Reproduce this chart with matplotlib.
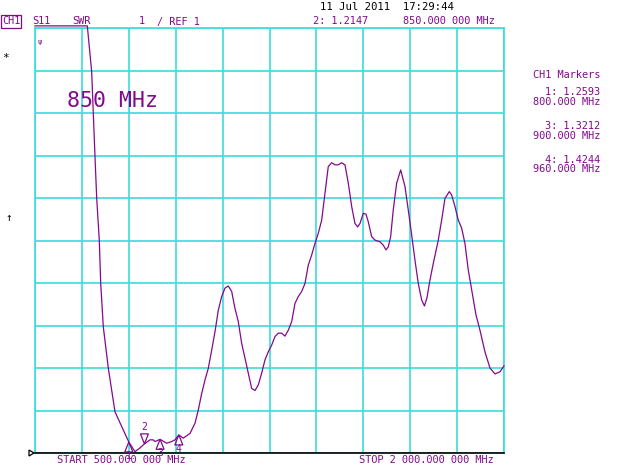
import matplotlib
matplotlib.use("Agg")
import matplotlib.pyplot as plt
import matplotlib.transforms as mtransforms
from matplotlib.patches import Polygon

# trace data (MHz, SWR)
freq = [500, 667.3, 681.3, 686.4, 691.9, 697.3, 705.6, 710.1, 718.4, 734.4,
        755.8, 782.4, 800, 819.8, 835.8, 850, 867.8, 877.4, 883.8, 900,
        921.2, 937.2, 947.7, 960, 974.3, 995.7, 1011.7, 1022.2, 1033.1, 1043.7,
        1054.2, 1065.1, 1075.6, 1086.2, 1097.1, 1107.6, 1118.2, 1129.1, 1139.6, 1150.2,
        1161.0, 1171.6, 1182.1, 1193.0, 1203.6, 1214.1, 1225.0, 1235.5, 1246.1, 1257.0,
        1267.5, 1278.1, 1288.9, 1299.5, 1310.1, 1320.9, 1331.5, 1342.0, 1352.9, 1363.5,
        1374.0, 1384.9, 1395.4, 1406.0, 1416.9, 1427.4, 1438.0, 1448.8, 1459.4, 1470.0,
        1480.8, 1491.4, 1502.0, 1512.8, 1523.4, 1532.0, 1539.4, 1549.9, 1558.6, 1565.9,
        1576.8, 1587.3, 1603.3, 1613.9, 1622.5, 1629.8, 1637.5, 1645.8, 1656.7, 1669.5,
        1683.3, 1693.8, 1704.7, 1715.2, 1725.8, 1736.7, 1745.6, 1753.6, 1763.2, 1773.8,
        1789.8, 1800.6, 1811.2, 1825.0, 1832.6, 1843.2, 1853.7, 1864.6, 1875.1, 1885.7,
        1896.6, 1910.4, 1923.1, 1939.1, 1955.1, 1971.1, 1987.1, 2000]
swr = [11.05, 11.05, 9.97, 9.0, 7.97, 7.0, 6.01, 5.0, 3.97, 3.0,
       1.97, 1.54, 1.2593, 1.03, 1.12, 1.2147, 1.31, 1.31, 1.27, 1.3212,
       1.23, 1.27, 1.31, 1.4244, 1.35, 1.46, 1.70, 2.01, 2.40, 2.72,
       2.99, 3.42, 3.85, 4.36, 4.68, 4.88, 4.93, 4.80, 4.40, 4.09,
       3.58, 3.23, 2.88, 2.52, 2.47, 2.60, 2.88, 3.19, 3.38, 3.54,
       3.74, 3.82, 3.82, 3.75, 3.89, 4.09, 4.52, 4.68, 4.80, 4.99,
       5.42, 5.66, 5.93, 6.17, 6.48, 7.11, 7.74, 7.83, 7.78, 7.78,
       7.83, 7.78, 7.35, 6.80, 6.40, 6.32, 6.40, 6.64, 6.62, 6.44,
       6.09, 6.01, 5.97, 5.89, 5.78, 5.85, 6.09, 6.72, 7.35, 7.66,
       7.27, 6.72, 6.13, 5.54, 4.99, 4.60, 4.46, 4.65, 5.07, 5.46,
       6.01, 6.48, 6.99, 7.15, 7.07, 6.80, 6.48, 6.29, 5.93, 5.31,
       4.84, 4.25, 3.89, 3.38, 3.00, 2.86, 2.91, 3.05]

marker_ids = ["1", "2", "3", "4"]
marker_freq = [800, 850, 900, 960]
marker_swr = [1.2593, 1.2147, 1.3212, 1.4244]
active_marker = "2"

f_start, f_stop = 500, 2000
ref_swr, swr_per_div = 1, 1

PURPLE = "#820a8c"
CYAN = "#3cdcdc"
MONO = "DejaVu Sans Mono"
W, H = 640, 465

fig = plt.figure(figsize=(W / 100, H / 100), dpi=100)
ax = fig.add_axes([35 / W, 12 / H, 469 / W, 425 / H])

ax.set_xlim(f_start, f_stop)
ax.set_ylim(ref_swr, ref_swr + 10 * swr_per_div)
ax.set_xticks([f_start + i * (f_stop - f_start) / 10 for i in range(11)])
ax.set_yticks([ref_swr + i * swr_per_div for i in range(11)])
ax.grid(color=CYAN, lw=1.2)
ax.tick_params(length=0, labelbottom=False, labelleft=False)
for side in ["top", "left", "right"]:
    ax.spines[side].set_color(CYAN)
    ax.spines[side].set_linewidth(1.2)
ax.spines["bottom"].set_color("black")
ax.spines["bottom"].set_linewidth(1.2)
ax.spines["bottom"].set_zorder(4)

ax.plot(freq, swr, color=PURPLE, lw=0.9, clip_on=False, zorder=3)


def tri(f, s, up=True, color=PURPLE):
    trans = mtransforms.ScaledTranslation(f, s, ax.transData)
    if up:
        verts = [(0, 0), (-4, -10), (4, -10)]
    else:
        verts = [(0, 0), (-4, 10), (4, 10)]
    ax.add_patch(Polygon(verts, closed=True, fill=False, ec=color, lw=0.9,
                         transform=trans, clip_on=False, zorder=5))


for mid, mf, ms in zip(marker_ids, marker_freq, marker_swr):
    if mid == active_marker:
        tri(mf, ms, up=False)
        dy = 17
    else:
        tri(mf, ms, up=True)
        dy = -14
    ax.annotate(mid, (mf, ms), xytext=(0, dy), textcoords="offset pixels",
                ha="center", va="center", fontsize=7, family=MONO,
                color=PURPLE, annotation_clip=False, zorder=6)

# reference position pointer at left edge
ref_trans = mtransforms.ScaledTranslation(f_start, ref_swr, ax.transData)
ax.add_patch(Polygon([(-6, -3), (-6, 3), (-1, 0)], closed=True, fill=False,
                     ec="black", lw=0.9, transform=ref_trans, clip_on=False))


def ptext(x, y, s, color=PURPLE, size=7.4, **kw):
    fig.text(x / W, 1 - y / H, s, family=MONO, fontsize=size, color=color,
             va="center", **kw)


# header
ptext(2, 21.5, "CH1", bbox=dict(boxstyle="square,pad=0.1", fc="none",
                                ec=PURPLE, lw=0.9))
ptext(32, 21.5, "S11")
ptext(72, 21.5, "SWR")
ptext(139, 21.5, "1")
ptext(157, 21.5, "/ REF 1")
ptext(320, 6.5, "11 Jul 2011  17:29:44", color="black", size=7.7)
ptext(313, 21.5, "2: 1.2147")
ptext(403, 21.5, "850.000 000 MHz")

# marker table
ptext(600, 75, "CH1 Markers", ha="right")
ptext(600, 92, "1: 1.2593", ha="right")
ptext(600, 102, "800.000 MHz", ha="right")
ptext(600, 126, "3: 1.3212", ha="right")
ptext(600, 136, "900.000 MHz", ha="right")
ptext(600, 160, "4: 1.4244", ha="right")
ptext(600, 169, "960.000 MHz", ha="right")

# footer
ptext(57, 460, "START 500.000 000 MHz")
ptext(359, 460, "STOP 2 000.000 000 MHz")

# misc screen annotations
ptext(67, 101, "850 MHz", size=15.5)
ptext(2, 58, "*", color="black", size=8)
ptext(5, 218, "\u2191", color="black", size=8)
ptext(38, 42, "\u03c8", size=5)

fig.savefig("out.png", dpi=100, facecolor="white")
